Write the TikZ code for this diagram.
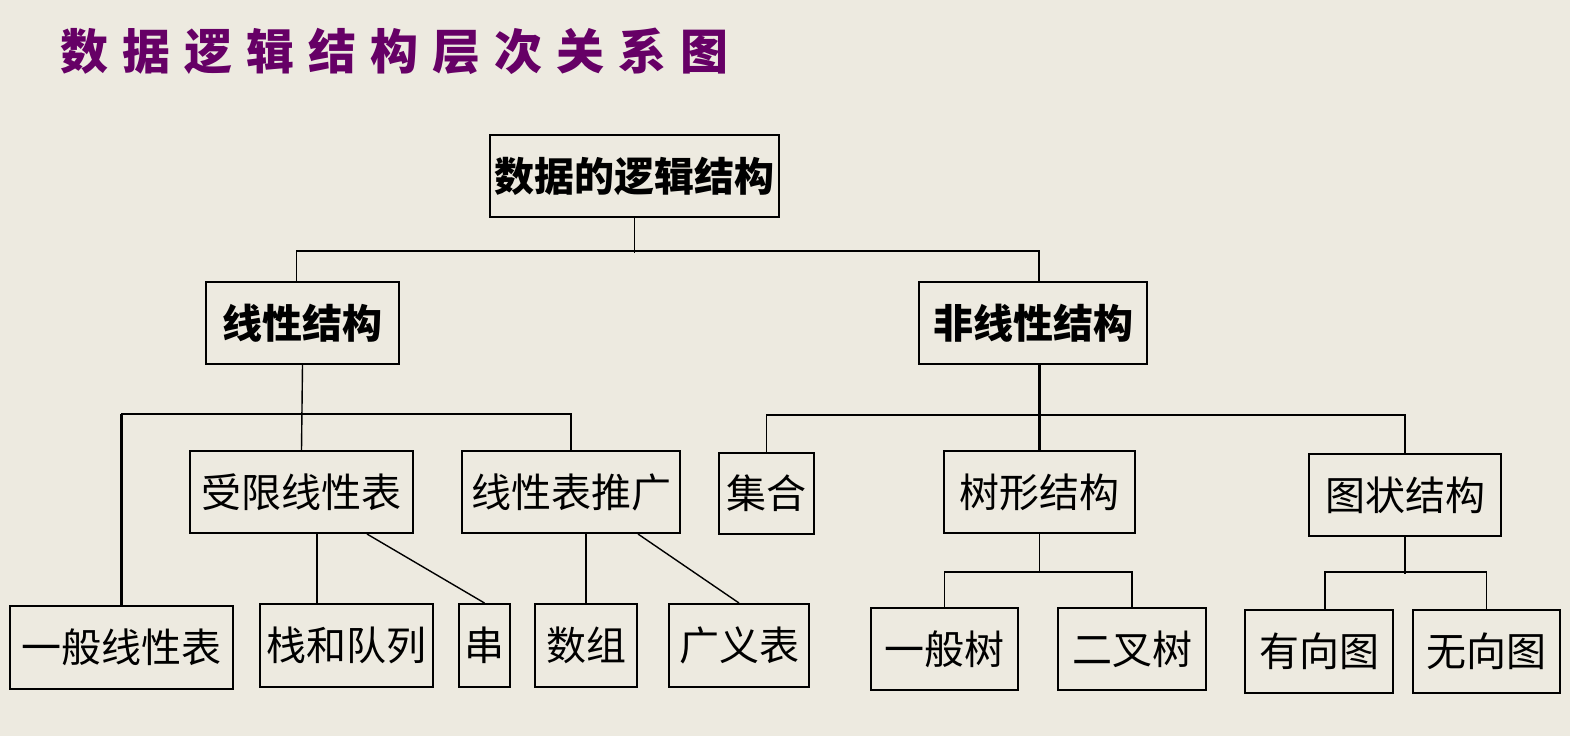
\documentclass[tikz,border=0pt]{standalone}
\usepackage{fontspec}
\newfontfamily\cjk{Noto Sans CJK SC}
\definecolor{bgc}{RGB}{237,234,224}
\definecolor{titlec}{RGB}{102,0,102}
\newcommand\mkbox[7][box]{\node[#1,minimum width={(#5-#3)*0.5pt},minimum height={(#6-#4)*0.5pt}] (#2) at ({(#3+#5)/2},{(#4+#6)/2}) {#7};}
\begin{document}
\begin{tikzpicture}[x=0.5pt,y=-0.5pt,
  box/.style={draw=black,line width=1pt,inner sep=0pt,font=\cjk\fontsize{20pt}{24pt}\selectfont},
  hbox/.style={box,font=\cjk\bfseries\fontsize{20pt}{24pt}\selectfont},
  ln/.style={line width=0.9pt},
  thinln/.style={line width=0.7pt},
  thickln/.style={line width=1.4pt}]
\fill[bgc] (0,0) rectangle (1570,736);
\useasboundingbox (0,0) rectangle (1570,736);
\node[font=\cjk\bfseries\fontsize{24pt}{28pt}\selectfont,text=titlec,inner sep=0pt] (title) at (395,51)
  {数\hspace{7pt}据\hspace{7pt}逻\hspace{7pt}辑\hspace{7pt}结\hspace{7pt}构\hspace{7pt}层\hspace{7pt}次\hspace{7pt}关\hspace{7pt}系\hspace{7pt}图};
% boxes
\mkbox[hbox]{top}{490}{135}{779}{217}{数据的逻辑结构}
\mkbox[hbox]{lin}{206}{282}{399}{364}{线性结构}
\mkbox[hbox]{nonlin}{919}{282}{1147}{364}{非线性结构}
\mkbox{lim}{190}{451}{413}{533}{受限线性表}
\mkbox{tui}{462}{451}{680}{533}{线性表推广}
\mkbox{gen}{10}{606}{233}{689}{一般线性表}
\mkbox{stack}{260}{604}{433}{687}{栈和队列}
\mkbox{chuan}{459}{604}{510}{687}{串}
\mkbox{arr}{535}{604}{637}{687}{数组}
\mkbox{gy}{669}{604}{809}{687}{广义表}
\mkbox{jihe}{719}{453}{814}{534}{集合}
\mkbox{tree}{944}{451}{1135}{533}{树形结构}
\mkbox{graph}{1309}{454}{1501}{536}{图状结构}
\mkbox{gtree}{871}{608}{1018}{690}{一般树}
\mkbox{btree}{1058}{608}{1206}{690}{二叉树}
\mkbox{dir}{1245}{610}{1393}{693}{有向图}
\mkbox{undir}{1413}{610}{1560}{693}{无向图}
% connectors level 1
\draw[thinln] (top.south) -- ++(0,35);
\draw[ln] ([xshift=-3pt]lin.north) -- ++(0,-30) -| ([xshift=3pt]nonlin.north);
% linear
\draw[thinln] (lin.south) -- (lim.north);
\draw[ln] (gen.north) -- ++(0,-191) -| (tui.north);
\draw[thickln] (gen.north) -- ++(0,-191);
\draw[thickln] (lim.south -| 317,0) -- (stack.north -| 317,0);
\draw[thinln] (lim.south -| 367,0) -- (chuan.north);
\draw[thickln] (tui.south -| arr.north) -- (arr.north);
\draw[thinln] (tui.south -| 638,0) -- (gy.north);
% nonlinear
\draw[thickln] (nonlin.south -| tree.north) -- (tree.north);
\draw[ln] (jihe.north) -- ++(0,-37) -| (graph.north);
\draw[thinln] (tree.south) -- ++(0,38);
\draw[ln] (gtree.north) -- ++(0,-35) -| (btree.north);
\draw[ln] (graph.south) -- ++(0,37);
\draw[ln] ([xshift=3pt]dir.north) -- ++(0,-37) -| (undir.north);
\end{tikzpicture}
\end{document}
